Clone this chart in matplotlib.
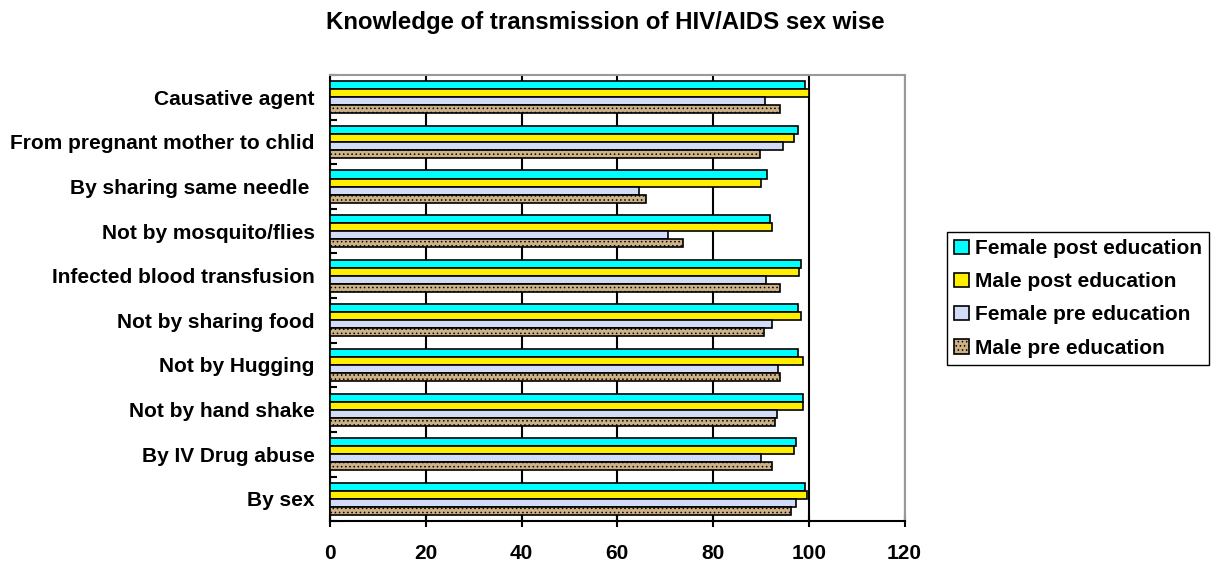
import numpy as np
import matplotlib.pyplot as plt

plt.rcParams['font.family'] = ['Liberation Sans', 'DejaVu Sans']
plt.rcParams['font.weight'] = 'bold'
plt.rcParams['hatch.color'] = '#7a5a30'
plt.rcParams['hatch.linewidth'] = 0.6

kategorien = ['By sex', 'By IV Drug abuse', 'Not by hand shake', 'Not by Hugging',
              'Not by sharing food', 'Infected blood transfusion', 'Not by mosquito/flies',
              'By sharing same needle ', 'From pregnant mother to chlid', 'Causative agent']

female_post = [99.1, 97.4, 98.8, 97.7, 97.8, 98.3, 91.8, 91.3, 97.8, 99.1]
male_post = [99.7, 96.9, 98.7, 98.8, 98.3, 98.0, 92.4, 90.1, 96.9, 100.0]
female_pre = [97.3, 90.1, 93.3, 93.5, 92.3, 91.1, 70.5, 64.5, 94.5, 90.8]
male_pre = [96.3, 92.3, 92.9, 93.9, 90.6, 93.9, 73.7, 66.0, 89.9, 93.9]

serien = [
    ('Female post education', female_post, '#00ffff', None),
    ('Male post education', male_post, '#ffee00', None),
    ('Female pre education', female_pre, '#d2dcf6', None),
    ('Male pre education', male_pre, '#cdb187', '....'),
]

fig = plt.figure(figsize=(12.11, 5.64), dpi=100)
ax = fig.add_axes([0.2725, 0.076, 0.4745, 0.791])

y = np.arange(len(kategorien))
h = 0.18
offsets = [1.5 * h, 0.5 * h, -0.5 * h, -1.5 * h]

for (name, werte, farbe, muster), off in zip(serien, offsets):
    ax.barh(y + off, werte, height=h, color=farbe, edgecolor='black',
            linewidth=1.2, hatch=muster, label=name, zorder=3)

ax.set_xlim(0, 120)
ax.set_ylim(-0.5, len(kategorien) - 0.5)
ax.set_xticks(np.arange(0, 121, 20))
ax.set_yticks(y)
ax.set_yticklabels(kategorien, fontsize=15, fontweight='bold')
ax.set_yticks(np.arange(-0.5, len(kategorien), 1), minor=True)
ax.tick_params(axis='y', which='major', length=0, pad=11)
ax.tick_params(axis='y', which='minor', length=5, width=1.5, direction='in')
ax.tick_params(axis='x', length=9, width=1.5, direction='inout', labelsize=15, pad=12)
for t in ax.get_xticklabels():
    t.set_fontweight('bold')

ax.grid(axis='x', color='black', linewidth=1.5, zorder=1)
ax.spines['left'].set_linewidth(1.5)
ax.spines['bottom'].set_linewidth(1.5)
ax.spines['top'].set_color('#999999')
ax.spines['right'].set_color('#999999')
ax.spines['top'].set_linewidth(1.5)
ax.spines['right'].set_linewidth(1.5)

fig.text(0.5, 0.96, 'Knowledge of transmission of HIV/AIDS sex wise', fontsize=17.3,
         fontweight='bold', ha='center', va='center')

fig.legend(loc='upper left', bbox_to_anchor=(0.782, 0.589), fontsize=15,
           frameon=True, fancybox=False, edgecolor='black', framealpha=1,
           handlelength=0.7, handleheight=0.7, handletextpad=0.3,
           labelspacing=0.68, borderpad=0.35, borderaxespad=0)

fig.savefig('out.png', dpi=100)
